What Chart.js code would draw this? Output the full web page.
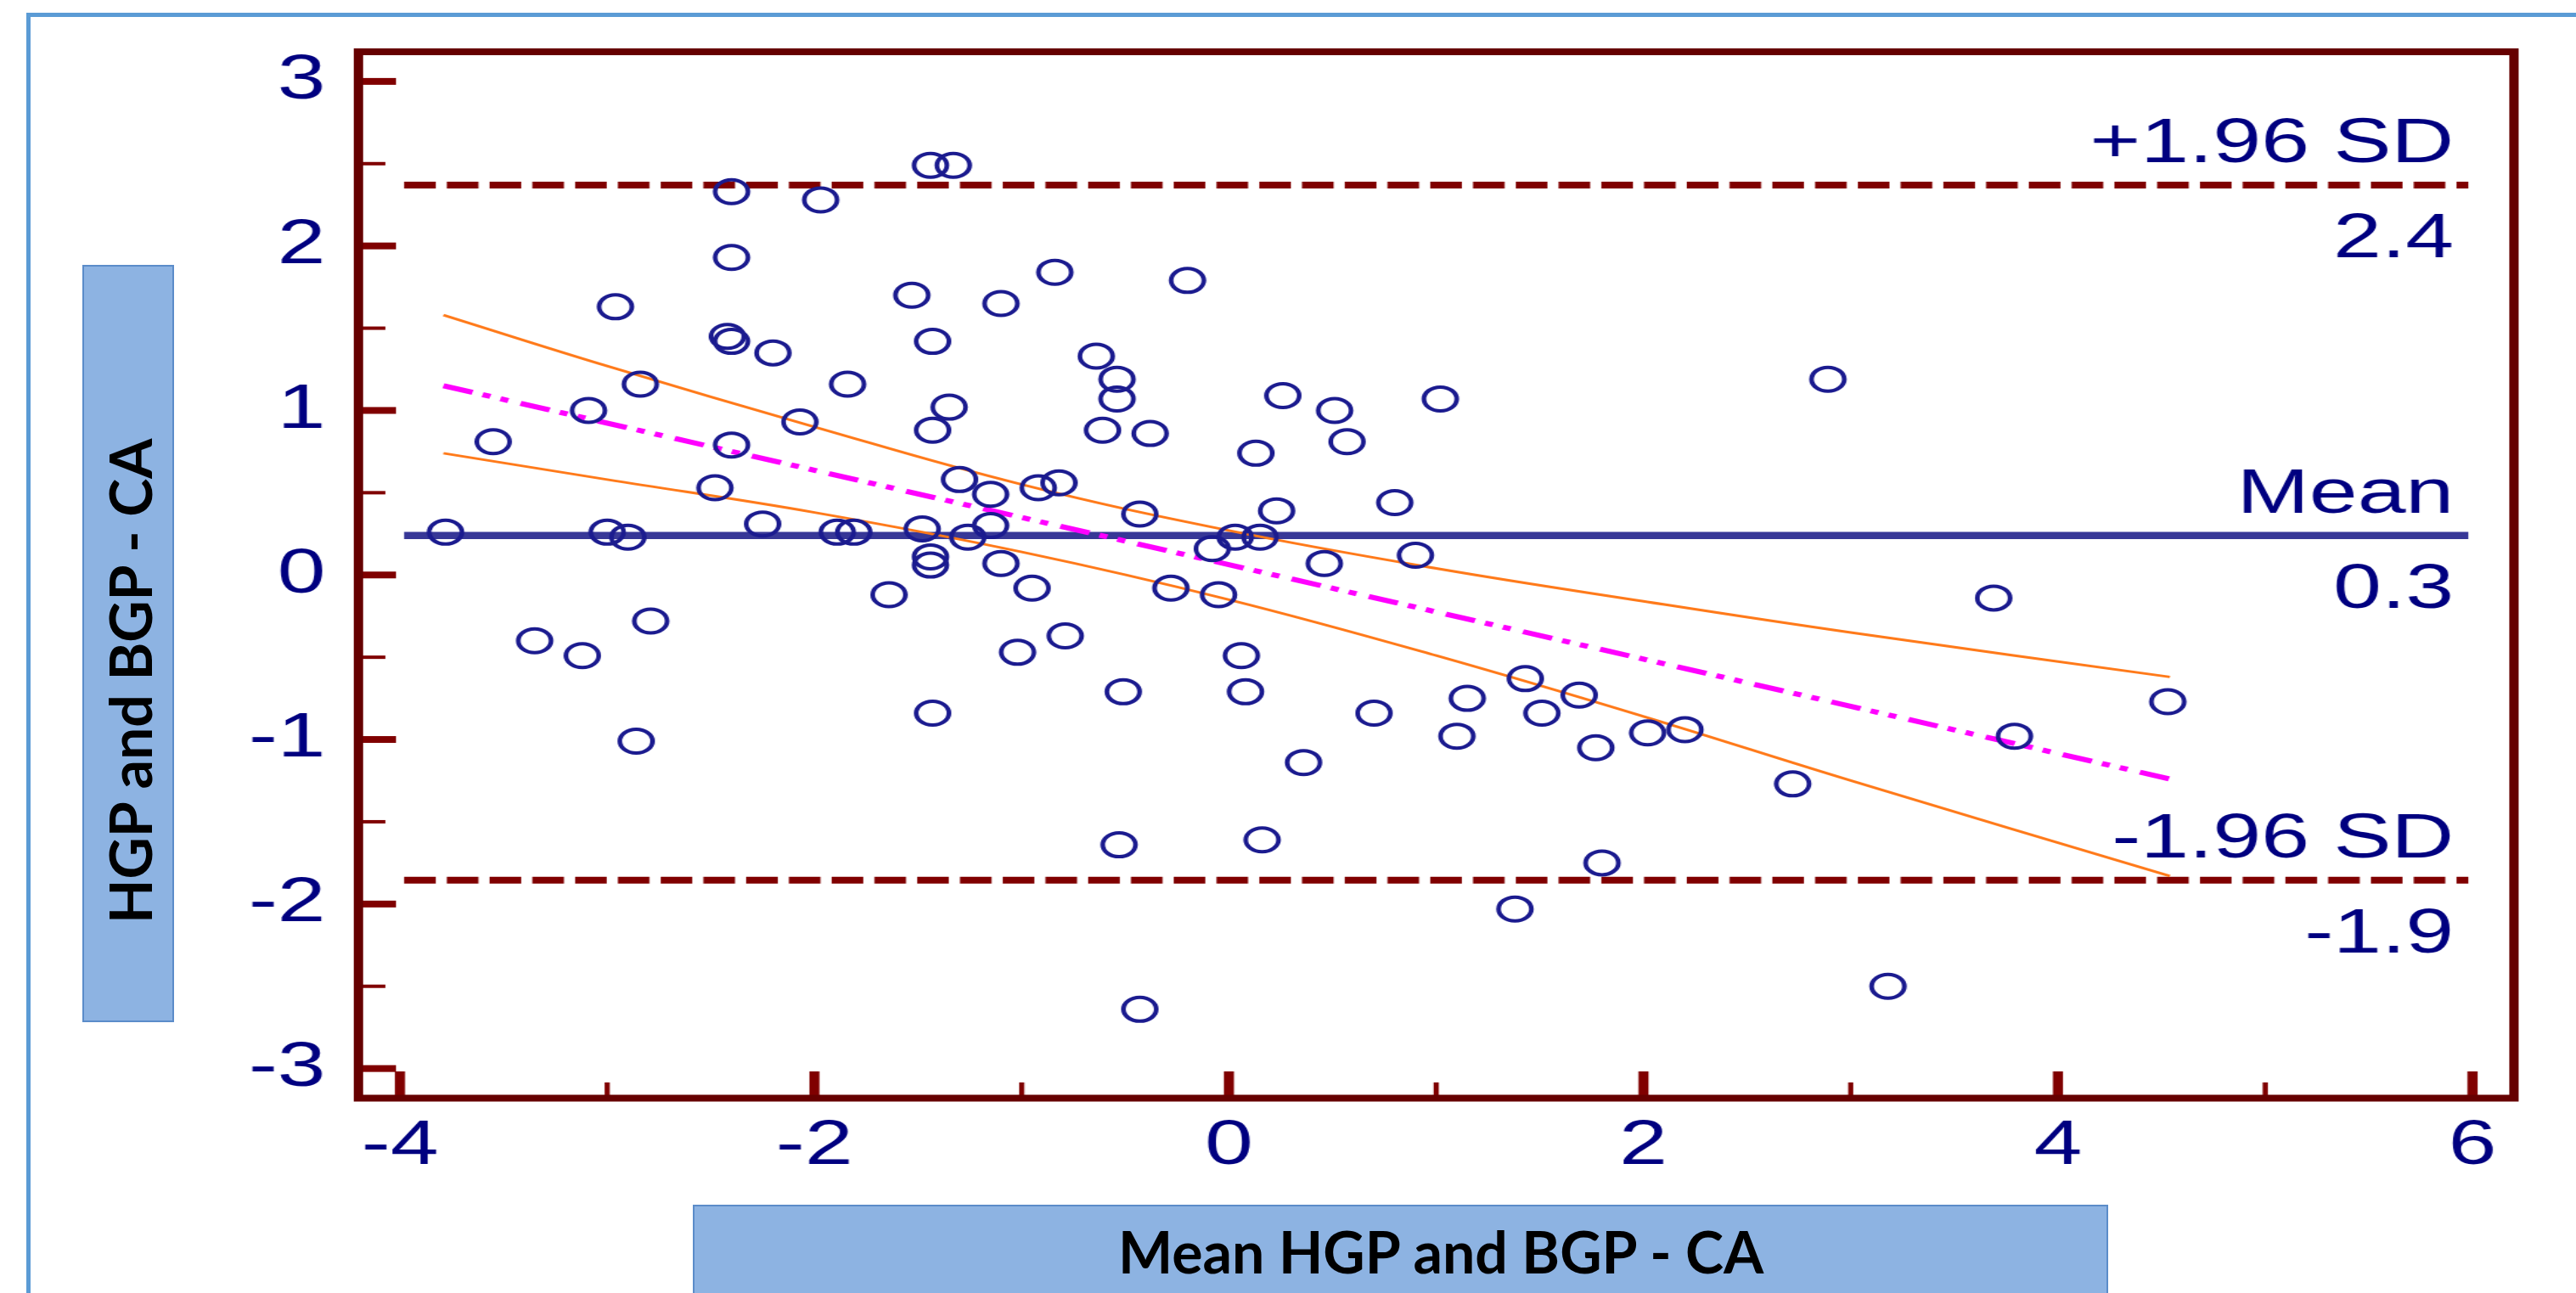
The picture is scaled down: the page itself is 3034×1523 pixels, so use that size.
<!DOCTYPE html>
<html>
<head>
<meta charset="utf-8">
<script src="https://cdn.jsdelivr.net/npm/chart.js@4.4.0/dist/chart.umd.min.js"></script>
<style>
html, body { margin:0; padding:0; background:#fff; overflow:hidden; }
body { width:3034px; height:1523px; position:relative; }
#frame { position:absolute; left:31px; top:15px; right:-20px; bottom:-20px; border-left:5px solid #5b9bd5; border-top:5px solid #5b9bd5; }
#ba { position:absolute; left:0; top:0; width:3034px; height:1523px; }
.box { position:absolute; background:#8db3e2; border:2px solid #5b8cc9; box-sizing:border-box; }
.ttl { position:absolute; font-family:Lato, "Open Sans", sans-serif; font-weight:bold; font-size:68px; line-height:81.6px; white-space:nowrap; color:#000; }
</style>
</head>
<body>
<div id="frame"></div>
<canvas id="ba" width="2199" height="1523" style="position:absolute;left:0;top:0;width:3034px;height:1523px"></canvas>
<div class="box" style="left:97px;top:312px;width:108px;height:892px"></div>
<div class="box" style="left:816px;top:1419px;width:1667px;height:160px"></div>
<div class="ttl" style="left:112px;top:1088px;transform-origin:0 0;transform:rotate(-90deg)">HGP and BGP - CA</div>
<div class="ttl" style="left:1317px;top:1433px">Mean HGP and BGP - CA</div>
<script>
// Bland-Altman plot
var meanVals = [-2.40, -1.97, -1.44, -1.33, -2.40, -0.84, -2.96, -1.53, -1.10, -2.42, -2.40, -2.20, -1.43,
  -2.84, -1.84, -1.35, -1.43, -3.09, -2.07, -3.55, -2.40, -2.48, -1.30, -1.15, -0.92, -0.82, -3.78,
  -3.00, -2.90, -2.25, -1.89, -1.81, -1.48, -1.26, -1.15, -1.44, -1.44, -1.10,
  -0.20, -0.64, -0.54, -0.54, 0.26, 0.51, 1.02, -0.61, -0.38, 0.13, 0.57, -0.43, 0.23, 0.80, -0.08,
  0.03, 0.15, 0.46, 0.90,
  2.89,
  -3.35, -3.12, -2.79, -2.86, -1.64, -0.95, -1.02, -0.79, -1.43,
  -0.28, -0.05, 0.06, -0.51, 0.08, 0.70, 0.36, 1.15, 1.10, 1.43, 1.51, 1.69, 1.77, 2.02, 2.20, 2.72,
  -0.53, 0.16, 1.80, 1.38, -0.43,
  3.69, 4.53, 3.79, 3.18];
var diffVals = [2.33, 2.28, 2.49, 2.49, 1.93, 1.84, 1.63, 1.70, 1.65, 1.45, 1.42, 1.35, 1.42,
  1.16, 1.16, 1.02, 0.88, 1.00, 0.93, 0.81, 0.79, 0.53, 0.58, 0.49, 0.53, 0.56, 0.26,
  0.26, 0.23, 0.31, 0.26, 0.26, 0.28, 0.23, 0.30, 0.11, 0.06, 0.07,
  1.79, 1.33, 1.19, 1.07, 1.09, 1.00, 1.07, 0.88, 0.86, 0.74, 0.81, 0.37, 0.39, 0.44, 0.16,
  0.23, 0.23, 0.07, 0.12,
  1.19,
  -0.40, -0.49, -0.28, -1.01, -0.12, -0.08, -0.47, -0.37, -0.84,
  -0.08, -0.12, -0.49, -0.71, -0.71, -0.84, -1.14, -0.75, -0.98, -0.63, -0.84, -0.73, -1.05, -0.96, -0.94, -1.27,
  -1.64, -1.61, -1.75, -2.03, -2.64,
  -0.14, -0.77, -0.98, -2.50];

var sdUpper = 2.37, diffMean = 0.24, sdLower = -1.855;
var limitX = [-3.98, 5.98];
var regX = [-3.79, 4.54];
var regY = [1.15, -1.24];
var ciX = [-3.79, -3, -2, -1, 0, 1, 2, 3, 4.54];
var ciUpper = [1.58, 1.27, 0.90, 0.55, 0.27, 0.04, -0.16, -0.35, -0.62];
var ciLower = [0.74, 0.58, 0.38, 0.14, -0.15, -0.49, -0.86, -1.25, -1.83];

var xTicks = [-4, -2, 0, 2, 4, 6];
var xMinor = [-3, -1, 1, 3, 5];
var yTicks = [-3, -2, -1, 0, 1, 2, 3];
var yMinor = [-2.5, -1.5, -0.5, 0.5, 1.5, 2.5];
var lineNotes = [[sdUpper, "+1.96 SD", "2.4"], [diffMean, "Mean", "0.3"], [sdLower, "-1.96 SD", "-1.9"]];

function pts(xs, ys) {
  return xs.map(function (x, i) { return {x: x, y: ys[i]}; });
}
function flat(v) { return pts(limitX, [v, v]); }

var maroon = '#800000';
var navy = '#000080';

var framePlugin = {
  id: 'frame',
  afterDraw: function (chart) {
    var c = chart.ctx, a = chart.chartArea;
    var xs = chart.scales.x, ys = chart.scales.y;
    c.save();
    c.fillStyle = maroon;
    yTicks.forEach(function (v) { var p = ys.getPixelForValue(v); c.fillRect(a.left + 4, p - 4, 28, 8); });
    yMinor.forEach(function (v) { var p = ys.getPixelForValue(v); c.fillRect(a.left + 4, p - 2, 19, 4); });
    xTicks.forEach(function (v) { var p = xs.getPixelForValue(v); c.fillRect(p - 4.3, a.bottom - 31.5, 8.6, 28); });
    xMinor.forEach(function (v) { var p = xs.getPixelForValue(v); c.fillRect(p - 2.2, a.bottom - 18.5, 4.4, 15); });
    c.strokeStyle = '#660000';
    c.lineWidth = 8;
    c.strokeRect(a.left, a.top, a.right - a.left, a.bottom - a.top);

    c.fillStyle = navy;
    c.font = "74px 'Liberation Sans', Arial, sans-serif";
    c.textAlign = 'right';
    c.textBaseline = 'alphabetic';
    var rx = xs.getPixelForValue(5.91);
    lineNotes.forEach(function (n) {
      var p = ys.getPixelForValue(n[0]);
      c.fillText(n[1], rx, p - 27);
      c.fillText(n[2], rx, p + 85);
    });
    c.restore();
  }
};

Chart.defaults.font.family = "'Liberation Sans', Arial, sans-serif";

new Chart(document.getElementById('ba'), {
  type: 'scatter',
  data: {
    datasets: [
      {
        data: pts(meanVals, diffVals),
        pointStyle: 'circle',
        pointRadius: 14,
        pointBorderWidth: 4,
        pointBorderColor: '#1b1b8f',
        pointBackgroundColor: 'rgba(0,0,0,0)'
      },
      { data: pts(ciX, ciUpper), showLine: true, borderColor: '#ff7a1a', borderWidth: 3, tension: 0.4, pointRadius: 0 },
      { data: pts(ciX, ciLower), showLine: true, borderColor: '#ff7a1a', borderWidth: 3, tension: 0.4, pointRadius: 0 },
      { data: pts(regX, regY), showLine: true, borderColor: '#ff00ff', borderWidth: 6, borderDash: [26, 9, 7, 9, 7, 11], pointRadius: 0 },
      { data: flat(diffMean), showLine: true, borderColor: '#373797', borderWidth: 8.5, pointRadius: 0 },
      { data: flat(sdUpper), showLine: true, borderColor: maroon, borderWidth: 8, borderDash: [27, 9.5], pointRadius: 0 },
      { data: flat(sdLower), showLine: true, borderColor: maroon, borderWidth: 8, borderDash: [27, 9.5], pointRadius: 0 }
    ]
  },
  options: {
    responsive: false,
    animation: false,
    devicePixelRatio: 1,
    layout: { padding: { top: 61, right: 53, left: 0, bottom: 0 } },
    plugins: { legend: { display: false }, tooltip: { enabled: false } },
    scales: {
      x: {
        type: 'linear',
        min: -4.2, max: 6.2,
        grid: { display: false, drawTicks: false },
        border: { display: false },
        afterBuildTicks: function (s) { s.ticks = xTicks.map(function (v) { return {value: v}; }); },
        afterFit: function (s) { s.height = 229.5; s.paddingLeft = 0; s.paddingRight = 0; },
        ticks: { color: navy, font: { size: 74 }, padding: 13, maxRotation: 0 }
      },
      y: {
        type: 'linear',
        min: -3.18, max: 3.18,
        grid: { display: false, drawTicks: false },
        border: { display: false },
        afterBuildTicks: function (s) { s.ticks = yTicks.map(function (v) { return {value: v}; }); },
        afterFit: function (s) { s.width = 306; s.paddingTop = 0; s.paddingBottom = 0; },
        ticks: { color: navy, font: { size: 74 }, padding: 28 }
      }
    }
  },
  plugins: [framePlugin]
});
</script>
</body>
</html>
